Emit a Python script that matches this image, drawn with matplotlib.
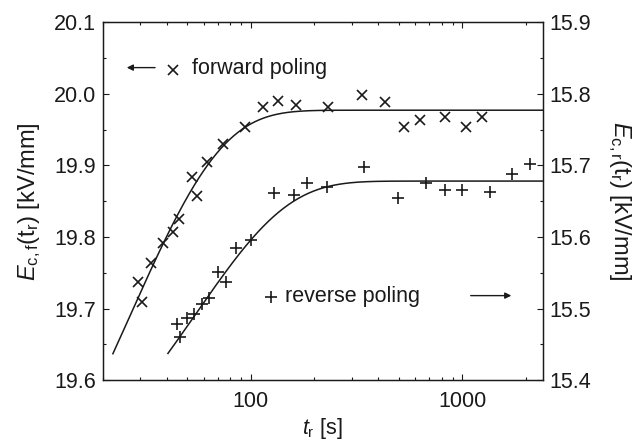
import numpy as np
import matplotlib
matplotlib.use("Agg")
import matplotlib.pyplot as plt
from matplotlib.ticker import LogLocator, FuncFormatter, MultipleLocator, NullFormatter

plt.rcParams['font.family'] = ['Liberation Sans', 'DejaVu Sans']
plt.rcParams['mathtext.fontset'] = 'custom'
plt.rcParams['mathtext.rm'] = 'Liberation Sans'
plt.rcParams['mathtext.it'] = 'Liberation Sans:italic'

# forward poling, left axis
t_fwd = [29.4, 30.5, 33.9, 38.4, 42.7, 45.7, 52.5, 55.8, 62.3, 73.9, 94, 114,
         135, 164, 233, 336, 433, 533, 632, 833, 1037, 1235]
E_fwd = [19.737, 19.709, 19.763, 19.792, 19.807, 19.825, 19.883, 19.857, 19.905,
         19.930, 19.953, 19.982, 19.990, 19.984, 19.982, 19.998, 19.989, 19.954,
         19.964, 19.968, 19.954, 19.968]

# reverse poling, right axis
t_rev = [44.6, 46.1, 49.9, 54.2, 59.0, 63.7, 70.0, 76.1, 84.9, 100, 129, 159.5,
         185, 229.5, 344, 495, 675, 833, 1000, 1347, 1726, 2100]
E_rev = [15.478, 15.460, 15.487, 15.492, 15.506, 15.515, 15.551, 15.537, 15.585,
         15.596, 15.661, 15.659, 15.675, 15.670, 15.697, 15.654, 15.675, 15.665,
         15.665, 15.663, 15.688, 15.702]

# fit parameters  E(t) = E_inf - A * exp(-t / tau)
fit_fwd = dict(E_inf=19.977, A=0.777, tau=27.0, t0=22.3)
fit_rev = dict(E_inf=15.678, A=0.501, tau=55.4, t0=40.6)

xmin, xmax = 20, 2400
ink = '#1a1a1a'
fs = 15.5

fig = plt.figure(figsize=(6.43, 4.43), dpi=100)
ax = fig.add_axes([0.160, 0.142, 0.684, 0.808])
ax2 = ax.twinx()

def fit_curve(p):
    t = np.logspace(np.log10(p['t0']), np.log10(xmax), 300)
    return t, p['E_inf'] - p['A'] * np.exp(-t / p['tau'])

tf, Ef = fit_curve(fit_fwd)
ax.plot(tf, Ef, color=ink, lw=1.1)
ax.plot(t_fwd, E_fwd, ls='none', marker='x', ms=7, mew=1.2, color=ink)

tr, Er = fit_curve(fit_rev)
ax2.plot(tr, Er, color=ink, lw=1.1)
ax2.plot(t_rev, E_rev, ls='none', marker='+', ms=8, mew=1.2, color=ink)

ax.set_xscale('log')
ax.set_xlim(xmin, xmax)
ax.set_ylim(19.6, 20.1)
ax2.set_ylim(15.4, 15.9)

ax.xaxis.set_major_locator(LogLocator(base=10))
ax.xaxis.set_minor_locator(LogLocator(base=10, subs=np.arange(2, 10)))
ax.xaxis.set_major_formatter(FuncFormatter(lambda v, p: '%d' % v))
ax.xaxis.set_minor_formatter(NullFormatter())
ax.yaxis.set_major_locator(MultipleLocator(0.1))
ax.yaxis.set_minor_locator(MultipleLocator(0.05))
ax2.yaxis.set_major_locator(MultipleLocator(0.1))
ax2.yaxis.set_minor_locator(MultipleLocator(0.05))
ax.yaxis.set_major_formatter(FuncFormatter(lambda v, p: '%.1f' % v))
ax2.yaxis.set_major_formatter(FuncFormatter(lambda v, p: '%.1f' % v))

for a in (ax, ax2):
    a.tick_params(which='both', direction='in', colors=ink, labelcolor=ink,
                  labelsize=fs, width=0.8)
    a.tick_params(which='major', length=4, pad=5)
    a.tick_params(which='minor', length=2.5)
    for s in a.spines.values():
        s.set_linewidth(0.9)
        s.set_color(ink)
ax.tick_params(which='both', top=True, right=False)
ax.tick_params(axis='x', which='major', pad=8)

ax.set_xlabel(r'$t_\mathrm{r}$ [s]', fontsize=fs, color=ink, labelpad=3)
ax.set_ylabel(r'$E_\mathrm{c,f}(\mathrm{t_r})$ [kV/mm]', fontsize=17, color=ink, labelpad=8)
ax2.set_ylabel(r'$E_\mathrm{c,r}(\mathrm{t_r})$ [kV/mm]', fontsize=17, color=ink,
               rotation=270, labelpad=30)

# in-plot labels
ax.plot([0.160], [0.866], transform=ax.transAxes, marker='x', ms=7, mew=1.2,
        color=ink, ls='none')
ax.text(0.202, 0.870, 'forward poling', transform=ax.transAxes, fontsize=fs,
        color=ink, va='center', ha='left')
ax.annotate('', xy=(0.048, 0.873), xytext=(0.125, 0.873), xycoords='axes fraction',
            arrowprops=dict(arrowstyle='-|>', color=ink, lw=1.0, mutation_scale=9))

ax.plot([0.382], [0.232], transform=ax.transAxes, marker='+', ms=8, mew=1.2,
        color=ink, ls='none')
ax.text(0.414, 0.234, 'reverse poling', transform=ax.transAxes, fontsize=fs,
        color=ink, va='center', ha='left')
ax.annotate('', xy=(0.935, 0.236), xytext=(0.83, 0.236), xycoords='axes fraction',
            arrowprops=dict(arrowstyle='-|>', color=ink, lw=1.0, mutation_scale=9))

fig.savefig('out.png', dpi=100)
